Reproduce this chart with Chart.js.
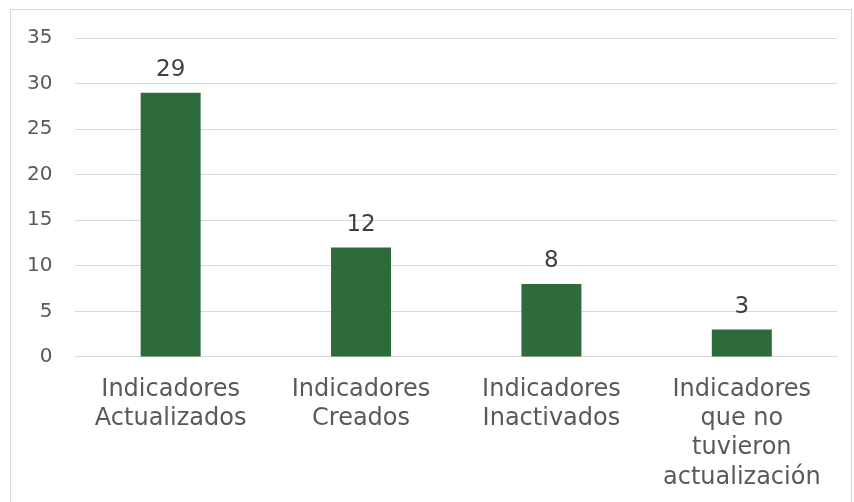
<!DOCTYPE html>
<html>
<head>
<meta charset="utf-8">
<script src="https://cdn.jsdelivr.net/npm/chart.js@4/dist/chart.umd.min.js"></script>
<style>
    html, body { margin: 0; padding: 0; background: #fff; overflow: hidden; }
    #frame {
        position: absolute; left: 10px; top: 9px;
        width: 842px; height: 500px;
        border: 1px solid #d9d9d9; box-sizing: border-box;
        overflow: hidden;
    }
    #chart { display: block; margin-top: -7px; }
</style>
</head>
<body>
<div id="frame"><canvas id="chart" width="840" height="500"></canvas></div>
<script>
// datos del gráfico
const categories = [
    ['Indicadores', 'Actualizados'],
    ['Indicadores', 'Creados'],
    ['Indicadores', 'Inactivados'],
    ['Indicadores', 'que no', 'tuvieron', 'actualización']
];
const values = [29, 12, 8, 3];
const yTicks = [0, 5, 10, 15, 20, 25, 30, 35];

const FONT = '"DejaVu Sans", Verdana, sans-serif';

// etiquetas de valor sobre las barras
const valueLabels = {
    id: 'valueLabels',
    afterDatasetsDraw(chart) {
        const c = chart.ctx;
        const meta = chart.getDatasetMeta(0);
        c.save();
        c.font = '23px ' + FONT;
        c.fillStyle = '#404040';
        c.textAlign = 'center';
        c.textBaseline = 'bottom';
        meta.data.forEach((bar, i) => {
            c.fillText(values[i], bar.x, bar.y - 11);
        });
        c.restore();
    }
};

new Chart(document.getElementById('chart'), {
    type: 'bar',
    data: {
        labels: categories,
        datasets: [{
            data: values,
            backgroundColor: '#2e6b3a',
            borderWidth: 0,
            barPercentage: 0.63,
            categoryPercentage: 0.5
        }]
    },
    options: {
        responsive: false,
        animation: false,
        layout: { padding: { left: -7, right: 14, top: 8, bottom: 1 } },
        plugins: { legend: { display: false }, tooltip: { enabled: false } },
        scales: {
            x: {
                grid: { display: false },
                border: { color: '#d9d9d9', width: 1 },
                ticks: {
                    color: '#595959',
                    maxRotation: 0,
                    autoSkip: false,
                    padding: 10,
                    font: { family: FONT, size: 24, lineHeight: 1.22 }
                }
            },
            y: {
                min: 0, max: 35,
                afterBuildTicks(axis) { axis.ticks = yTicks.map(v => ({ value: v })); },
                grid: { color: '#d9d9d9', drawTicks: false },
                border: { display: false },
                ticks: {
                    color: '#595959',
                    padding: 23,
                    font: { family: FONT, size: 20 }
                }
            }
        }
    },
    plugins: [valueLabels]
});
</script>
</body>
</html>
